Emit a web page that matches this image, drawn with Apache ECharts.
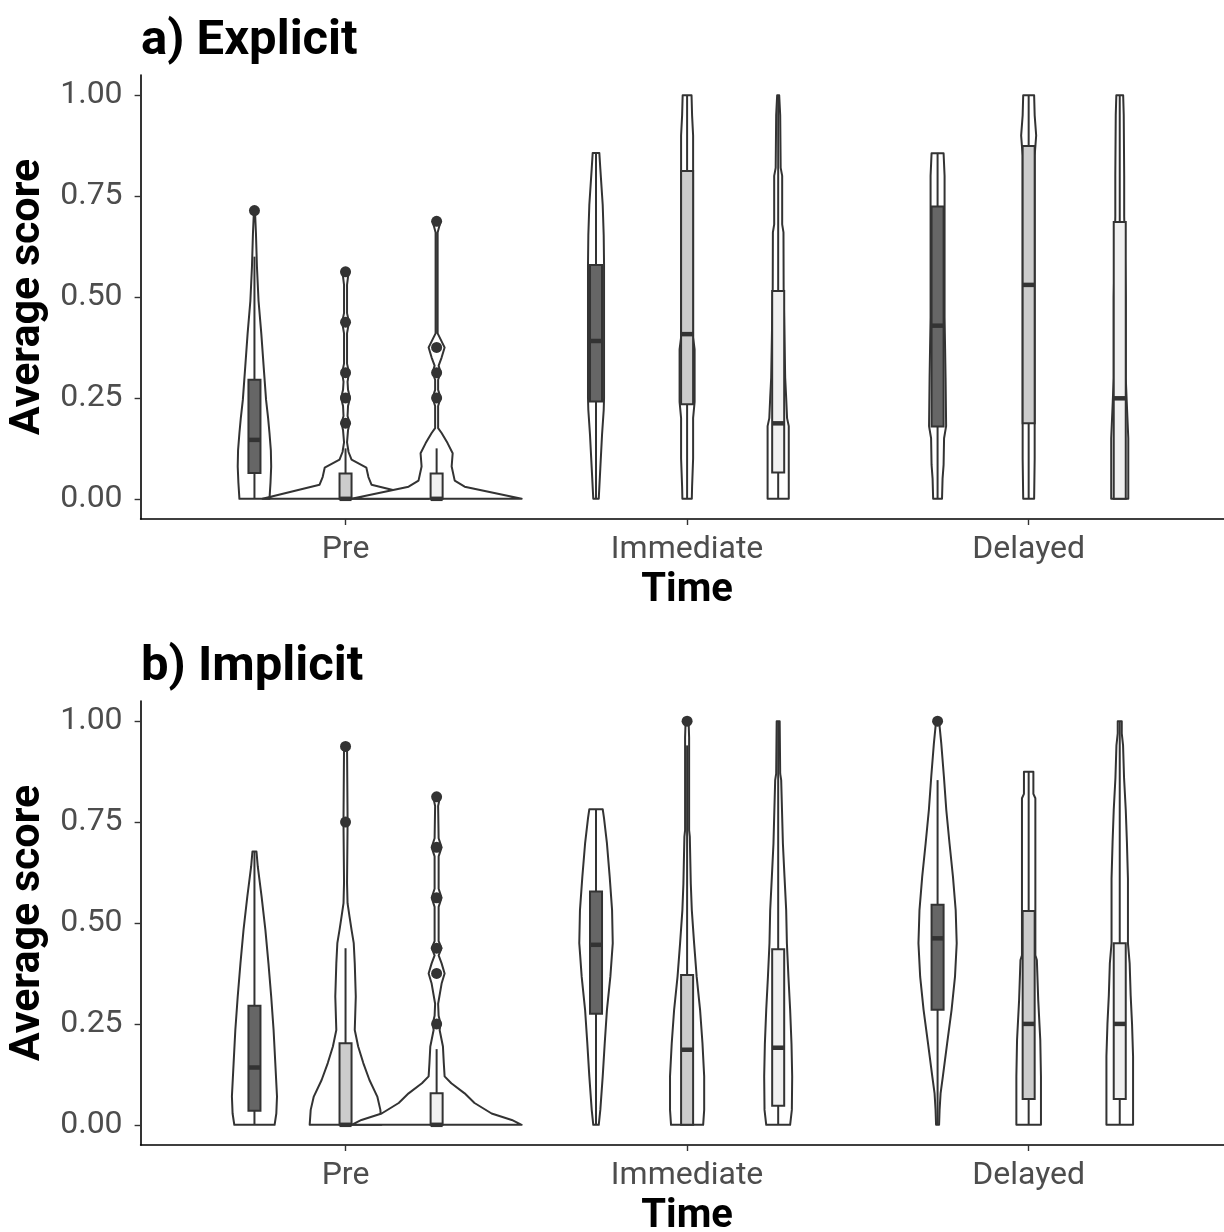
<!DOCTYPE html>
<html><head><meta charset="utf-8">
<script src="https://cdn.jsdelivr.net/npm/echarts@6/dist/echarts.min.js"></script>
<style>html,body{margin:0;padding:0;background:#fff}#c{width:1224px;height:1232px}</style>
</head><body><div id="c"></div>
<script>
// ---------------- data ----------------
const times = ['Pre', 'Immediate', 'Delayed'];
const yTicks = [0, 0.25, 0.5, 0.75, 1];
const panelTitles = ['a) Explicit', 'b) Implicit'];
const xTitle = 'Time';
const yTitle = 'Average score';
const groupFills = ['#666666', '#cccccc', '#f0f0f0'];

// violin profiles: [score, half-width in category units], order: Pre g1,g2,g3, Immediate g1..g3, Delayed g1..g3
const explicitViolins = [
  [[0,0.044],[0.04,0.047],[0.08,0.049],[0.12,0.048],[0.163,0.044],[0.2,0.040],[0.245,0.034],[0.327,0.027],[0.41,0.020],[0.49,0.012],[0.575,0.0073],[0.657,0.0044],[0.715,0.0015]],
  [[0,0.243],[0.035,0.076],[0.054,0.067],[0.077,0.061],[0.097,0.0176],[0.116,0.0088],[0.14,0.0044],[0.17,0.0073],[0.1875,0.0117],[0.205,0.0059],[0.23,0.0073],[0.25,0.013],[0.27,0.0073],[0.29,0.0059],[0.3125,0.010],[0.335,0.0044],[0.41,0.0044],[0.4375,0.010],[0.46,0.0044],[0.53,0.0044],[0.55,0.0073],[0.5625,0.0117],[0.57,0.008]],
  [[0,0.249],[0.03,0.082],[0.045,0.053],[0.08,0.044],[0.113,0.047],[0.138,0.032],[0.163,0.0146],[0.175,0.0044],[0.23,0.0044],[0.25,0.0117],[0.27,0.0044],[0.295,0.0044],[0.3125,0.0117],[0.33,0.0059],[0.35,0.0146],[0.375,0.0234],[0.39,0.0146],[0.41,0.003],[0.66,0.003],[0.6875,0.0117],[0.69,0.009]],
  [[0,0.008],[0.076,0.0126],[0.158,0.0176],[0.22,0.0225],[0.25,0.0235],[0.58,0.0235],[0.653,0.0225],[0.728,0.0196],[0.818,0.0126],[0.857,0.0097]],
  [[0,0.0138],[0.03,0.0146],[0.1,0.0176],[0.2,0.0176],[0.24,0.022],[0.37,0.022],[0.4,0.0176],[0.9,0.0176],[0.95,0.0146],[1.0,0.013]],
  [[0,0.031],[0.18,0.031],[0.2,0.026],[0.25,0.0234],[0.3,0.0205],[0.52,0.016],[0.66,0.0155],[0.68,0.0117],[0.8,0.0117],[0.82,0.0073],[0.95,0.0059],[1.0,0.003]],
  [[0,0.013],[0.05,0.0146],[0.084,0.0176],[0.15,0.019],[0.18,0.025],[0.3,0.0234],[0.373,0.022],[0.45,0.0205],[0.8,0.0205],[0.856,0.0176]],
  [[0,0.016],[0.1,0.0176],[0.85,0.0176],[0.9,0.022],[0.95,0.0176],[1.0,0.016]],
  [[0,0.025],[0.15,0.025],[0.24,0.0205],[0.3,0.0176],[0.5,0.0176],[0.7,0.013],[0.8,0.013],[0.95,0.0117],[1.0,0.010]]
];
// box stats: [lower whisker, Q1, median, Q3, upper whisker]
const explicitBoxes = [
  [0, 0.064, 0.146, 0.295, 0.60],
  [0, 0, 0, 0.0625, 0.125],
  [0, 0, 0, 0.0625, 0.125],
  [0, 0.241, 0.391, 0.579, 0.857],
  [0, 0.234, 0.408, 0.812, 1.0],
  [0, 0.065, 0.187, 0.515, 1.0],
  [0, 0.179, 0.429, 0.724, 0.857],
  [0, 0.187, 0.53, 0.874, 1.0],
  [0, 0, 0.249, 0.686, 1.0]
];
const explicitOutliers = [
  [0.714],
  [0.1875, 0.25, 0.3125, 0.4375, 0.5625],
  [0.25, 0.3125, 0.375, 0.6875],
  [], [], [], [], [], []
];

const implicitViolins = [
  [[0,0.059],[0.028,0.064],[0.07,0.066],[0.153,0.061],[0.235,0.056],[0.318,0.049],[0.4,0.041],[0.483,0.032],[0.565,0.021],[0.64,0.0097],[0.677,0.0059]],
  [[0,0.105],[0.037,0.102],[0.07,0.093],[0.111,0.070],[0.153,0.052],[0.194,0.037],[0.235,0.027],[0.318,0.030],[0.4,0.027],[0.45,0.024],[0.483,0.0176],[0.516,0.0117],[0.549,0.0059],[0.6,0.0044],[0.75,0.006],[0.9375,0.0044]],
  [[0,0.249],[0.012,0.22],[0.028,0.161],[0.054,0.111],[0.078,0.082],[0.103,0.043],[0.12,0.0234],[0.153,0.021],[0.194,0.0185],[0.235,0.0088],[0.25,0.0117],[0.27,0.0059],[0.3,0.0044],[0.35,0.0146],[0.375,0.0234],[0.4,0.0146],[0.42,0.0059],[0.4375,0.0146],[0.455,0.0059],[0.54,0.0059],[0.5625,0.0146],[0.585,0.0059],[0.665,0.0059],[0.6875,0.0146],[0.71,0.0059],[0.79,0.0044],[0.8125,0.010],[0.82,0.006]],
  [[0,0.008],[0.037,0.0126],[0.12,0.0196],[0.202,0.0255],[0.285,0.032],[0.367,0.042],[0.45,0.049],[0.532,0.047],[0.615,0.040],[0.697,0.032],[0.76,0.0234],[0.782,0.0196]],
  [[0,0.047],[0.037,0.050],[0.12,0.050],[0.202,0.045],[0.285,0.038],[0.367,0.028],[0.45,0.0205],[0.532,0.0138],[0.598,0.0108],[0.714,0.0079],[0.73,0.0059],[0.96,0.0059],[1.0,0.0044]],
  [[0,0.035],[0.037,0.040],[0.12,0.041],[0.2,0.039],[0.285,0.035],[0.367,0.030],[0.45,0.0255],[0.532,0.0234],[0.615,0.0185],[0.697,0.0138],[0.854,0.0088],[0.87,0.0059],[1.0,0.0044]],
  [[0,0.0044],[0.037,0.0059],[0.078,0.0088],[0.12,0.0155],[0.202,0.028],[0.285,0.041],[0.367,0.051],[0.45,0.056],[0.532,0.053],[0.615,0.045],[0.697,0.035],[0.78,0.0255],[0.863,0.0185],[0.945,0.0108],[1.0,0.0044]],
  [[0,0.036],[0.12,0.036],[0.21,0.034],[0.309,0.028],[0.408,0.024],[0.42,0.0196],[0.809,0.0196],[0.82,0.0138],[0.875,0.0138]],
  [[0,0.039],[0.17,0.039],[0.25,0.036],[0.32,0.032],[0.4,0.029],[0.45,0.024],[0.61,0.024],[0.7,0.021],[0.78,0.0176],[0.86,0.0126],[0.94,0.0097],[0.97,0.0059],[1.0,0.0059]]
];
const implicitBoxes = [
  [0, 0.035, 0.142, 0.295, 0.677],
  [0, 0, 0, 0.202, 0.4375],
  [0, 0, 0, 0.078, 0.1875],
  [0, 0.275, 0.446, 0.578, 0.782],
  [0, 0, 0.186, 0.371, 0.94],
  [0, 0.047, 0.191, 0.435, 1.0],
  [0, 0.285, 0.462, 0.545, 0.854],
  [0, 0.064, 0.25, 0.53, 0.875],
  [0, 0.064, 0.25, 0.45, 1.0]
];
const implicitOutliers = [
  [],
  [0.75, 0.9375],
  [0.25, 0.375, 0.4375, 0.5625, 0.6875, 0.8125],
  [],
  [1.0],
  [],
  [1.0],
  [], []
];

// ---------------- layout / style ----------------
const DODGE = 0.8 / 3;
const BOX_HALF = 0.0176;
const INK = '#333333';
const FONT = 'Roboto';
const LW = 2;

function centerOf(i) {
  return Math.floor(i / 3) + 1 + ((i % 3) - 1) * DODGE;
}

function violinSeries(ax, profiles) {
  return {
    type: 'custom', xAxisIndex: ax, yAxisIndex: ax, silent: true, z: 1,
    data: profiles.map((p, i) => [centerOf(i), 0]),
    renderItem: (params, api) => {
      const i = params.dataIndex, prof = profiles[i], cx = centerOf(i);
      const right = prof.map(([v, w]) => api.coord([cx + w, v]));
      const left = prof.slice().reverse().map(([v, w]) => api.coord([cx - w, v]));
      return { type: 'polygon', shape: { points: right.concat(left) },
        style: { fill: '#ffffff', stroke: INK, lineWidth: LW, lineJoin: 'round' } };
    }
  };
}

function boxSeries(ax, boxes) {
  return {
    type: 'custom', xAxisIndex: ax, yAxisIndex: ax, silent: true, z: 2,
    data: boxes.map((b, i) => [centerOf(i), b[2]]),
    renderItem: (params, api) => {
      const i = params.dataIndex, b = boxes[i], cx = centerOf(i);
      const lw = api.coord([cx, b[0]]), q1 = api.coord([cx, b[1]]), md = api.coord([cx, b[2]]),
            q3 = api.coord([cx, b[3]]), uw = api.coord([cx, b[4]]);
      const xl = api.coord([cx - BOX_HALF, 0])[0], xr = api.coord([cx + BOX_HALF, 0])[0];
      const lineStyle = { stroke: INK, lineWidth: LW };
      return { type: 'group', children: [
        { type: 'line', shape: { x1: lw[0], y1: lw[1], x2: q1[0], y2: q1[1] }, style: lineStyle },
        { type: 'line', shape: { x1: q3[0], y1: q3[1], x2: uw[0], y2: uw[1] }, style: lineStyle },
        { type: 'rect', shape: { x: xl, y: q3[1], width: xr - xl, height: q1[1] - q3[1] },
          style: { fill: groupFills[i % 3], stroke: INK, lineWidth: LW } },
        { type: 'line', shape: { x1: xl, y1: md[1], x2: xr, y2: md[1] }, style: { stroke: INK, lineWidth: 4.5 } }
      ] };
    }
  };
}

function outlierSeries(ax, outs) {
  const pts = [];
  outs.forEach((list, i) => list.forEach(v => pts.push([centerOf(i), v])));
  return { type: 'scatter', xAxisIndex: ax, yAxisIndex: ax, silent: true, z: 3,
    symbol: 'circle', symbolSize: 11, itemStyle: { color: INK, opacity: 1 }, data: pts };
}

const GRID_LEFT = 140.6, GRID_W = 1093, GRID_H = 444;
const gridTops = [75, 701];

function xAxisFor(idx) {
  return {
    type: 'value', gridIndex: idx, min: 0.4, max: 3.6,
    name: xTitle, nameLocation: 'middle', nameGap: 52,
    nameTextStyle: { fontFamily: FONT, fontWeight: 'bold', fontSize: 40, color: '#000' },
    axisLine: { show: true, onZero: false, lineStyle: { color: '#000', width: 1.6 } },
    axisTick: { show: true, customValues: [1, 2, 3], length: 6, lineStyle: { color: INK, width: 1.4 } },
    axisLabel: { customValues: [1, 2, 3], formatter: v => times[Math.round(v) - 1] || '',
      fontFamily: FONT, fontSize: 32, color: '#4d4d4d', margin: 15 },
    splitLine: { show: false }
  };
}
function yAxisFor(idx) {
  return {
    type: 'value', gridIndex: idx, min: -0.05, max: 1.05,
    name: yTitle, nameLocation: 'middle', nameGap: 87, nameRotate: 90,
    nameTextStyle: { fontFamily: FONT, fontWeight: 'bold', fontSize: 43, color: '#000' },
    axisLine: { show: true, onZero: false, lineStyle: { color: '#000', width: 1.6 } },
    axisTick: { show: true, customValues: yTicks, length: 6, lineStyle: { color: INK, width: 1.4 } },
    axisLabel: { customValues: yTicks, formatter: v => v.toFixed(2),
      fontFamily: FONT, fontSize: 32, color: '#4d4d4d', margin: 18 },
    splitLine: { show: false }
  };
}

const chart = echarts.init(document.getElementById('c'), null, { renderer: 'canvas' });
chart.setOption({
  backgroundColor: '#ffffff',
  animation: false,
  title: panelTitles.map((t, k) => ({
    text: t, left: 136, top: k === 0 ? 12 : 638,
    textStyle: { fontFamily: FONT, fontWeight: 'bold', fontSize: 49, color: '#000' }
  })),
  grid: gridTops.map(t => ({ left: GRID_LEFT, top: t, width: GRID_W, height: GRID_H,
    containLabel: false, outerBoundsMode: 'none' })),
  xAxis: [xAxisFor(0), xAxisFor(1)],
  yAxis: [yAxisFor(0), yAxisFor(1)],
  series: [
    violinSeries(0, explicitViolins), boxSeries(0, explicitBoxes), outlierSeries(0, explicitOutliers),
    violinSeries(1, implicitViolins), boxSeries(1, implicitBoxes), outlierSeries(1, implicitOutliers)
  ]
});
</script></body></html>
